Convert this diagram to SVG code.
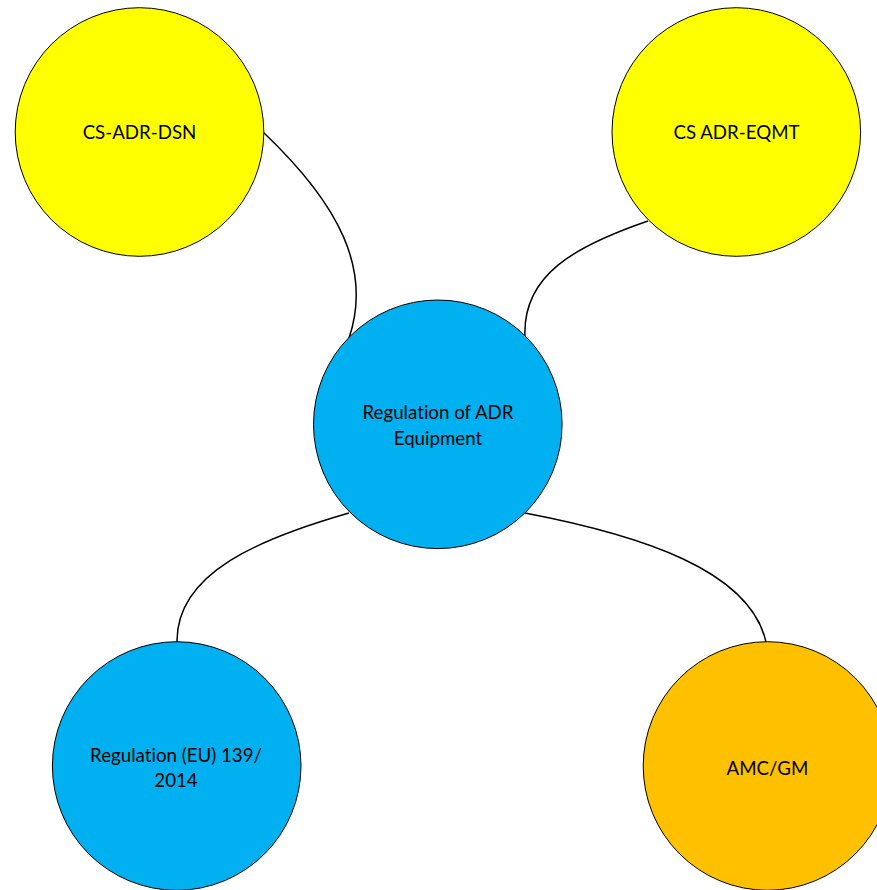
<svg xmlns="http://www.w3.org/2000/svg" width="877" height="890" viewBox="0 0 877 890">
<style>
.node circle{stroke:#000;stroke-width:1}
.yellow{fill:#FFFF00}
.blue{fill:#00B0F0}
.orange{fill:#FFC000}
text{font-family:Lato,"Liberation Sans",sans-serif;font-size:18.7px;fill:#000;text-anchor:middle;font-variant-ligatures:none;font-feature-settings:"liga" 0,"dlig" 0}
#connectors path{fill:none;stroke:#000;stroke-width:1.5}
</style>
<rect width="877" height="890" fill="#fff"/>
<g id="connectors">
<path d="M263,132 C340,205 372,270 349,338"/>
<path d="M648,221 C575,246 522,275 525,337"/>
<path d="M349,513 C262,538 176,572 177,642"/>
<path d="M525,513 C640,535 750,570 766,642"/>
</g>
<g id="cs-adr-dsn" class="node">
<circle class="yellow" cx="139.5" cy="132" r="124.3"/>
<text x="139.5" y="139">CS-ADR-DSN</text>
</g>
<g id="cs-adr-eqmt" class="node">
<circle class="yellow" cx="736.3" cy="132" r="124.3"/>
<text x="736.5" y="139">CS ADR-EQMT</text>
</g>
<g id="regulation-adr-equipment" class="node">
<circle class="blue" cx="437.8" cy="424.3" r="124.3"/>
<text x="438" y="419">Regulation of ADR</text>
<text x="438" y="444.5">Equipment</text>
</g>
<g id="regulation-eu" class="node">
<circle class="blue" cx="176.7" cy="766" r="124.3"/>
<text x="176" y="761.5">Regulation (EU) 139/</text>
<text x="176" y="786.5">2014</text>
</g>
<g id="amc-gm" class="node">
<circle class="orange" cx="767.5" cy="766" r="124.3"/>
<text x="767.5" y="774.5">AMC/GM</text>
</g>
</svg>
